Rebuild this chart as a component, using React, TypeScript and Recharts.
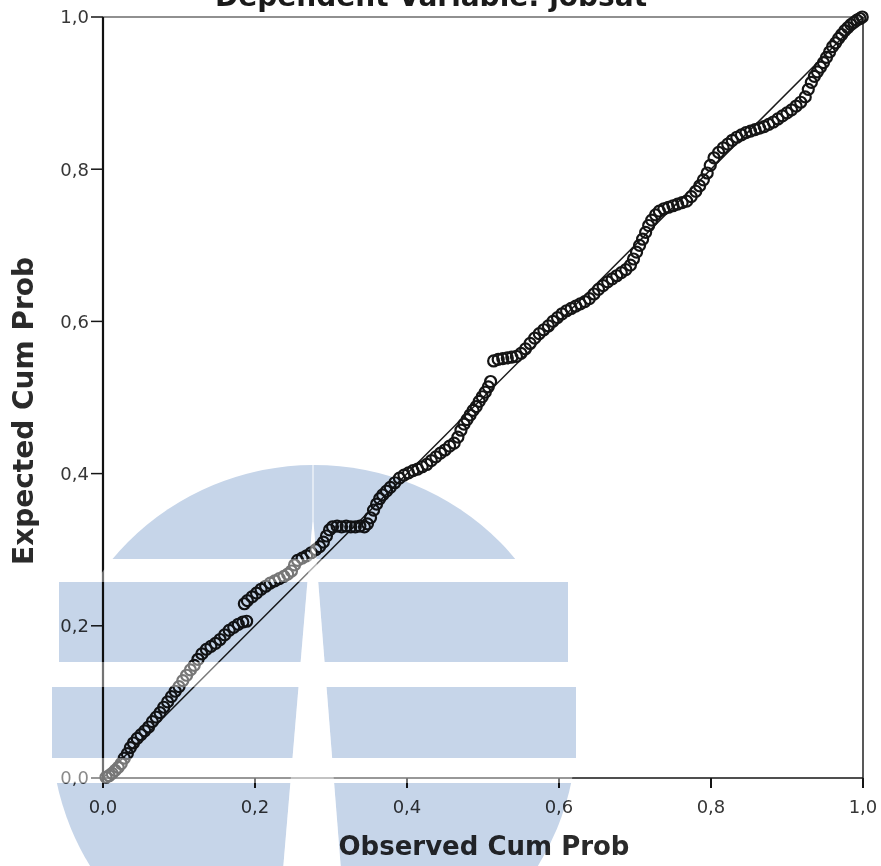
import React from 'react';
import { ScatterChart, Scatter, XAxis, YAxis, ReferenceLine, Label } from 'recharts';

const observedCumProb = [
  0.004, 0.008, 0.012, 0.016, 0.02, 0.024, 0.028, 0.032, 0.036, 0.04, 0.045, 0.05, 0.055, 0.06, 0.065,
  0.07, 0.075, 0.08, 0.085, 0.09, 0.095, 0.1, 0.105, 0.11, 0.115, 0.12, 0.125, 0.13, 0.136, 0.142,
  0.148, 0.154, 0.16, 0.166, 0.172, 0.178, 0.184, 0.189,
  0.186, 0.19, 0.196, 0.202, 0.208, 0.214, 0.22, 0.226, 0.232, 0.238, 0.243, 0.248, 0.252, 0.256,
  0.262, 0.268, 0.274, 0.28, 0.285, 0.29, 0.294, 0.298,
  0.302, 0.308, 0.314, 0.32, 0.326, 0.332, 0.338, 0.344, 0.348,
  0.352, 0.356, 0.36, 0.364, 0.368, 0.373, 0.378, 0.384, 0.39, 0.396, 0.402, 0.408, 0.414, 0.42,
  0.426, 0.432, 0.438, 0.444, 0.45, 0.456, 0.462, 0.467, 0.471, 0.475, 0.479, 0.483, 0.487, 0.491,
  0.495, 0.499, 0.503, 0.507, 0.51,
  0.514, 0.52, 0.526, 0.532, 0.538, 0.544, 0.55, 0.556, 0.562, 0.568, 0.574, 0.58, 0.586, 0.592,
  0.598, 0.604, 0.61, 0.616, 0.622, 0.628, 0.634, 0.64,
  0.646, 0.652, 0.658, 0.664, 0.67, 0.676, 0.682, 0.688, 0.694, 0.698, 0.702, 0.706, 0.71, 0.714,
  0.718, 0.722, 0.727, 0.732, 0.738, 0.744, 0.75, 0.756, 0.762, 0.768,
  0.774, 0.78, 0.785, 0.79, 0.795, 0.799, 0.804, 0.81, 0.816, 0.822, 0.828, 0.834, 0.84, 0.846,
  0.852, 0.858, 0.864, 0.87, 0.876, 0.882, 0.888, 0.894, 0.9, 0.906, 0.912, 0.918, 0.924,
  0.928, 0.932, 0.936, 0.94, 0.944, 0.948, 0.952, 0.956, 0.96, 0.964, 0.968, 0.972, 0.976, 0.98,
  0.984, 0.988, 0.992, 0.996, 0.999,
];

const expectedCumProb = [
  0.001, 0.003, 0.006, 0.01, 0.014, 0.019, 0.026, 0.032, 0.04, 0.046, 0.052, 0.057, 0.062, 0.067, 0.074,
  0.08, 0.086, 0.093, 0.1, 0.107, 0.114, 0.12, 0.128, 0.135, 0.142, 0.148, 0.156, 0.163, 0.169, 0.173,
  0.177, 0.182, 0.188, 0.194, 0.198, 0.202, 0.205, 0.206,
  0.229, 0.233, 0.238, 0.243, 0.248, 0.252, 0.256, 0.259, 0.262, 0.265, 0.268, 0.272, 0.28, 0.286,
  0.289, 0.292, 0.296, 0.3, 0.304, 0.31, 0.318, 0.326,
  0.33, 0.331, 0.33, 0.331, 0.33, 0.33, 0.331, 0.33, 0.334,
  0.342, 0.352, 0.36, 0.367, 0.372, 0.377, 0.382, 0.388, 0.394, 0.398, 0.401, 0.404, 0.406, 0.409,
  0.412, 0.417, 0.422, 0.427, 0.431, 0.436, 0.44, 0.448, 0.457, 0.465, 0.471, 0.477, 0.483, 0.488,
  0.495, 0.501, 0.507, 0.514, 0.521,
  0.548, 0.55, 0.551, 0.552, 0.553, 0.554, 0.558, 0.564, 0.571, 0.578, 0.584, 0.589, 0.594, 0.6,
  0.605, 0.61, 0.614, 0.617, 0.62, 0.623, 0.626, 0.63,
  0.636, 0.642, 0.647, 0.652, 0.656, 0.66, 0.664, 0.668, 0.674, 0.682, 0.691, 0.7, 0.708, 0.717,
  0.726, 0.733, 0.74, 0.745, 0.748, 0.75, 0.752, 0.754, 0.756, 0.758,
  0.764, 0.771, 0.778, 0.786, 0.795, 0.805, 0.815, 0.822, 0.828, 0.833, 0.838, 0.842, 0.845, 0.848,
  0.85, 0.852, 0.854, 0.856, 0.859, 0.862, 0.866, 0.87, 0.874, 0.878, 0.883, 0.888, 0.895,
  0.905, 0.914, 0.922, 0.928, 0.934, 0.94, 0.947, 0.954, 0.961, 0.966, 0.972, 0.977, 0.982, 0.986,
  0.99, 0.993, 0.996, 0.998, 1.0,
];

const axisTicks = [0, 0.2, 0.4, 0.6, 0.8, 1.0];
const tickLabels = ['0,0', '0,2', '0,4', '0,6', '0,8', '1,0'];

const FONT = '"DejaVu Sans", Verdana, sans-serif';

const points = observedCumProb.map((x, i) => ({ x, y: expectedCumProb[i] }));
const fmt = (v: number) => tickLabels[axisTicks.findIndex((t) => Math.abs(t - v) < 1e-9)] ?? String(v);

const OpenCircle = (props: any) => (
  <circle cx={props.cx} cy={props.cy} r={5.5} fill="none" stroke="#151515" strokeWidth={2.2} />
);

// faint logo watermark sitting over the scan
const LEFT_SIDE = 'M0,0 L312.5,0 L312.5,522 L283,870 L0,870 Z';
const RIGHT_SIDE = 'M313.5,0 L881,0 L881,870 L341,870 L313.5,522 Z';
const WEDGE = 'M312.5,522 L313.5,522 L341,870 L283,870 Z';

function WatermarkBlue() {
  const bands = (
    <>
      <g clipPath="url(#wmCircle)">
        <rect x={0} y={440} width={881} height={119} />
        <rect x={0} y={783} width={881} height={90} />
      </g>
      <rect x={59} y={582} width={509} height={80} />
      <rect x={52} y={687} width={524} height={71} />
    </>
  );
  return (
    <svg
      width={881}
      height={866}
      style={{ position: 'absolute', left: 0, top: 0, pointerEvents: 'none', mixBlendMode: 'multiply' }}
    >
      <defs>
        <clipPath id="wmCircle">
          <circle cx={314} cy={728} r={263} />
        </clipPath>
        <clipPath id="wmLeft">
          <path d={LEFT_SIDE} />
        </clipPath>
        <clipPath id="wmRight">
          <path d={RIGHT_SIDE} />
        </clipPath>
      </defs>
      <g fill="#c6d5e9">
        <g clipPath="url(#wmLeft)">{bands}</g>
        <g clipPath="url(#wmRight)">{bands}</g>
      </g>
    </svg>
  );
}

function WatermarkVeil() {
  return (
    <svg width={881} height={866} style={{ position: 'absolute', left: 0, top: 0, pointerEvents: 'none' }}>
      <defs>
        <clipPath id="veilCircle">
          <circle cx={314} cy={728} r={263} />
        </clipPath>
      </defs>
      <g fill="#ffffff" fillOpacity={0.42} clipPath="url(#veilCircle)">
        <rect x={0} y={559} width={881} height={23} />
        <rect x={0} y={662} width={881} height={25} />
        <rect x={0} y={758} width={881} height={25} />
        <path d={WEDGE} />
      </g>
    </svg>
  );
}

export default function App() {
  return (
    <div style={{ position: 'relative', width: 881, height: 866, background: '#fff', overflow: 'hidden' }}>
      <style>{'body{margin:0}'}</style>
      <ScatterChart width={881} height={866} margin={{ top: 17, right: 18, bottom: 58, left: 43 }}>
        <XAxis
          type="number"
          dataKey="x"
          domain={[0, 1]}
          ticks={axisTicks}
          tickFormatter={fmt}
          height={30}
          tickSize={10}
          tickMargin={12}
          axisLine={{ stroke: '#151515', strokeWidth: 1.5 }}
          tickLine={{ stroke: '#151515', strokeWidth: 2 }}
          tick={{ fill: '#363636', fontSize: 18, fontFamily: FONT }}
        >
          <Label
            content={() => (
              <text x={484} y={855} textAnchor="middle" fontFamily={FONT} fontWeight="bold" fontSize={26} fill="#2a2a2a">
                Observed Cum Prob
              </text>
            )}
          />
        </XAxis>
        <YAxis
          type="number"
          dataKey="y"
          domain={[0, 1]}
          ticks={axisTicks}
          tickFormatter={fmt}
          width={60}
          tickSize={12}
          tickMargin={2}
          axisLine={{ stroke: '#111', strokeWidth: 2.2 }}
          tickLine={{ stroke: '#151515', strokeWidth: 1.5 }}
          tick={{ fill: '#363636', fontSize: 18, fontFamily: FONT }}
        >
          <Label
            content={() => (
              <text
                x={33}
                y={411}
                transform="rotate(-90 33 411)"
                textAnchor="middle"
                fontFamily={FONT}
                fontWeight="bold"
                fontSize={28}
                fill="#2a2a2a"
              >
                Expected Cum Prob
              </text>
            )}
          />
        </YAxis>
        <ReferenceLine y={1} stroke="#222" strokeWidth={1.2} />
        <ReferenceLine x={1} stroke="#222" strokeWidth={1.5} />
        <ReferenceLine
          segment={[
            { x: 0, y: 0 },
            { x: 1, y: 1 },
          ]}
          stroke="#1a1a1a"
          strokeWidth={1.5}
        />
        <Scatter data={points} shape={OpenCircle} isAnimationActive={false} />
      </ScatterChart>
      <div
        style={{
          position: 'absolute',
          left: 0,
          width: 862,
          top: -18,
          textAlign: 'center',
          fontFamily: FONT,
          fontWeight: 'bold',
          fontSize: 28,
          color: '#1a1a1a',
          lineHeight: '30px',
          whiteSpace: 'nowrap',
        }}
      >
        Dependent Variable: jobsat
      </div>
      <WatermarkBlue />
      <WatermarkVeil />
    </div>
  );
}
